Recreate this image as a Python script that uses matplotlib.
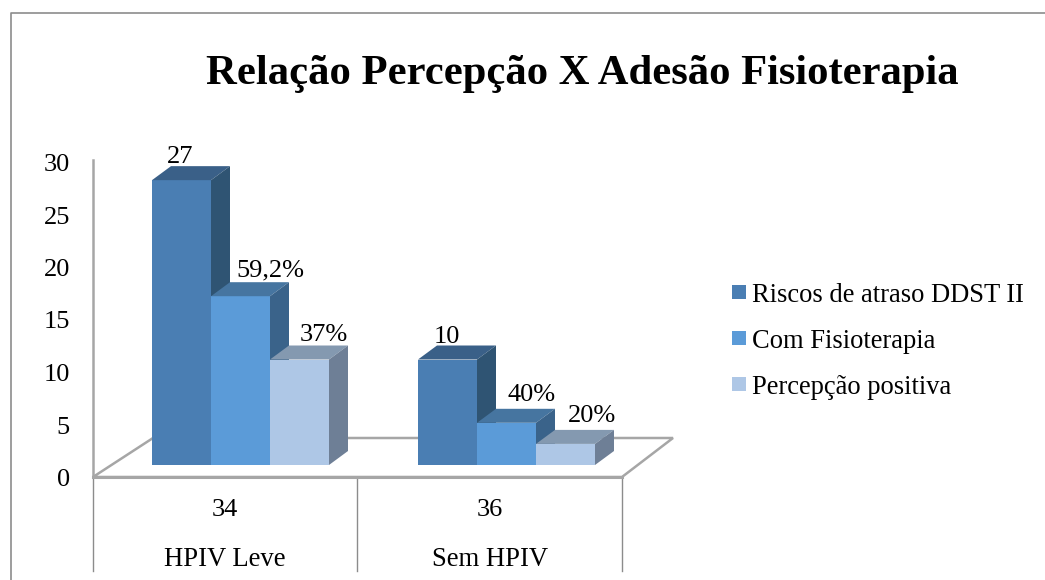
import matplotlib
matplotlib.use('Agg')
import matplotlib.pyplot as plt
from matplotlib.patches import Polygon, Rectangle

plt.rcParams['font.family'] = ['Liberation Serif', 'DejaVu Serif']

# Data
groups = ['HPIV Leve', 'Sem HPIV']
group_totals = ['34', '36']
series = ['Riscos de atraso DDST II', 'Com Fisioterapia', 'Percepção positiva']
values = [[27, 16, 10], [10, 4, 2]]
bar_labels = [['27', '59,2%', '37%'], ['10', '40%', '20%']]
yticks = [0, 5, 10, 15, 20, 25, 30]

# where the labels sit, in pixels (they were placed by hand in the original)
label_xy = [[(180, 157), (270, 270), (324, 335)], [(447, 337), (532, 395), (592, 416)]]

front_colors = ['#4A7EB3', '#5B9BD8', '#AEC7E6']
top_colors = ['#3A6088', '#4675A0', '#8499B0']
side_colors = ['#2F5473', '#3A638A', '#6E7F96']
grey = '#8C8C8C'

W, H = 1045, 580
fig = plt.figure(figsize=(W / 100, H / 100), dpi=100)

# axes spans the whole picture: x is in bar widths, y in chart units
unit_y = 10.55
bar_w = 59.0
x0_px = 93.0
y0_px = 477.0
ax = fig.add_axes([0, 0, 1, 1])
ax.set_xlim(-x0_px / bar_w, (W - x0_px) / bar_w)
ax.set_ylim(-(H - y0_px) / unit_y, y0_px / unit_y)
ax.axis('off')

def px(x, y):
    return (x - x0_px) / bar_w, (y0_px - y) / unit_y

# depth of the fake 3d, in data units
dx = 19.0 / bar_w
dy = 14.0 / unit_y
base = 12.0 / unit_y
group_x = [59.0 / bar_w, 325.0 / bar_w]

# outer frame, only left and top are in the picture
ax.plot(*zip(px(10.5, 580), px(10.5, 13), px(1045, 13)), color=grey, lw=1.2)

# floor and value axis
floor = [px(93, 477), px(153, 438), px(673, 438), px(622, 477)]
ax.add_patch(Polygon(floor, closed=True, fc='white', ec='#A6A6A6', lw=1.8, zorder=1))
ax.plot(*zip(px(93, 477), px(93, 160)), color='#A6A6A6', lw=1.8, zorder=1)

for t in yticks:
    ax.text(*px(70, 480 - t * 10.5), str(t), fontsize=19, ha='right', va='center')

# category table under the floor
for xp in [93, 357, 622]:
    ax.plot(*zip(px(xp, 477), px(xp, 571)), color=grey, lw=1, zorder=1)
ax.plot(*zip(px(93, 477), px(622, 477)), color='#A6A6A6', lw=2.2, zorder=2)

for i, group in enumerate(groups):
    xmid = 225 + i * 265
    ax.text(*px(xmid, 510), group_totals[i], fontsize=19, ha='center', va='center')
    ax.text(*px(xmid, 559), group, fontsize=19.2, ha='center', va='center')

    for j, v in enumerate(values[i]):
        left = group_x[i] + j
        right = left + 1
        top = base + v
        z = 3 + j
        ax.bar(left, v, width=1, bottom=base, align='edge', color=front_colors[j], zorder=z)
        ax.add_patch(Polygon([(left, top), (right, top), (right + dx, top + dy), (left + dx, top + dy)],
                             closed=True, fc=top_colors[j], ec='none', zorder=z))
        ax.add_patch(Polygon([(right, base), (right + dx, base + dy), (right + dx, top + dy), (right, top)],
                             closed=True, fc=side_colors[j], ec='none', zorder=z))
        ax.text(*px(*label_xy[i][j]), bar_labels[i][j], fontsize=19,
                ha='center', va='center', zorder=10)

# legend
for k, name in enumerate(series):
    yc = 292 + k * 46
    ax.add_patch(Rectangle(px(732, yc + 7), 14 / bar_w, 14 / unit_y, fc=front_colors[k], ec='none'))
    ax.text(*px(752, yc + 3), name, fontsize=19.1, ha='left', va='center')

ax.text(*px(582, 74), 'Relação Percepção X Adesão Fisioterapia', fontsize=30.7,
        fontweight='bold', ha='center', va='center')

fig.savefig('out.png', dpi=100)
